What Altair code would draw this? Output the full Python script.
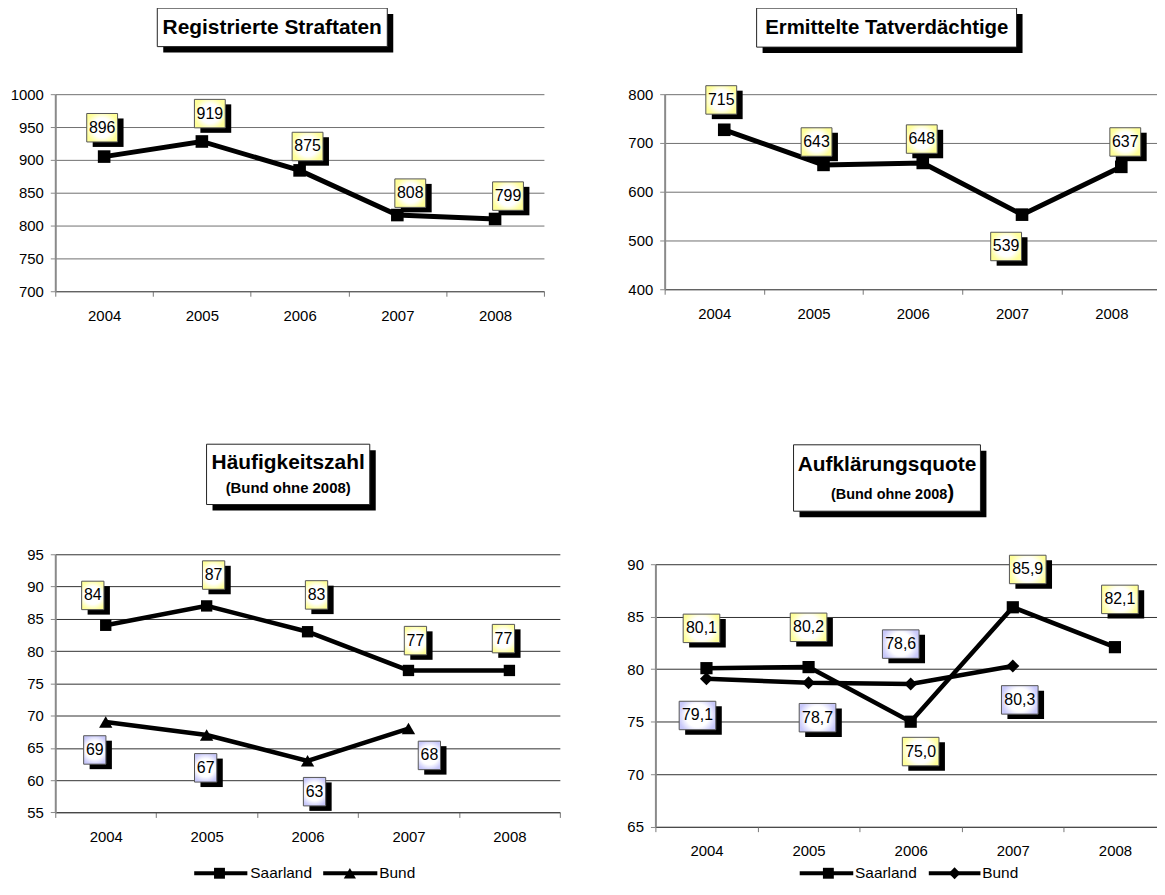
import json
import altair as alt
import pandas as pd

# ---------------- data ----------------
years = ["2004", "2005", "2006", "2007", "2008"]

# Registrierte Straftaten (plotted point positions / printed labels)
straf_points = [905, 928, 884, 816, 810]
straf_labels = [896, 919, 875, 808, 799]

# Ermittelte Tatverdächtige
tv_points = [727, 655, 659, 553, 651]
tv_labels = [715, 643, 648, 539, 637]

# Häufigkeitszahl
hz_saarland = [84, 87, 83, 77, 77]
hz_bund = [69, 67, 63, 68]

# Aufklärungsquote
aq_saarland = [80.1, 80.2, 75.0, 85.9, 82.1]
aq_bund = [79.1, 78.7, 78.6, 80.3]

# pixel nudges of each data-label box relative to its point
straf_dx = [-2, 8, 8, 13, 13]
straf_dy = [-29, -28, -24, -22, -23]
tv_dx = [7, 3, 9, -6, 14]
tv_dy = [-30, -23, -24, 32, -25]
hz_saar_dx = [-13, 7, 9, 7, -6]
hz_saar_dy = [-30, -31, -37, -30, -32]
hz_bund_dx = [-11, -1, 7, 21]
hz_bund_dy = [28, 33, 31, 27]
aq_saar_dx = [-5, 0, 10, 15, 5]
aq_saar_dy = [-40, -40, 30, -38, -48]
aq_bund_dx = [-9, 9, -10, 7]
aq_bund_dy = [37, 35, -40, 34]

FONT = "Liberation Sans"
YEARS_JS = json.dumps(years)
one = pd.DataFrame({"k": [0]})

HALF_H = 14.3
BOX_SIZE = (2 * HALF_H) ** 2


def box_path(half_w):
    k = half_w / HALF_H
    return f"M{-k:.3f},-1H{k:.3f}V1H{-k:.3f}Z"


def radial(edge):
    return {
        "gradient": "radial", "x1": 0.5, "y1": 0.5, "r1": 0,
        "x2": 0.5, "y2": 0.5, "r2": 0.7,
        "stops": [
            {"offset": 0, "color": "#ffffff"},
            {"offset": 0.45, "color": "#ffffff"},
            {"offset": 0.75, "color": edge},
            {"offset": 1, "color": edge},
        ],
    }


def series_frame(values, labels, dx, dy, band, units_per_px, decimals=0):
    rows = []
    for i, v in enumerate(values):
        text = f"{labels[i]:.{decimals}f}".replace(".", ",")
        rows.append({
            "pos": i + 0.5, "value": v, "label": text,
            "lx": i + 0.5 + dx[i] / band,
            "ly": v - dy[i] * units_per_px,
        })
    return pd.DataFrame(rows)


def panel(width, height, ydom, yvals, xmax, series, box_half_w, title, legend=None,
          line_w=5.0, xshift=0, grid_color="#707070"):
    band = width / xmax
    upp = (ydom[1] - ydom[0]) / height
    xscale = alt.Scale(domain=[0, xmax], nice=False, zero=False)
    yscale = alt.Scale(domain=ydom, nice=False, zero=False)
    nt = 6 if xmax >= 5 else 5
    xaxis = alt.Axis(
        values=list(range(nt)),
        labelExpr=f"datum.value < 5 ? {YEARS_JS}[datum.value] : ''",
        labelOffset=band / 2, tickSize=5, tickColor="#777", domainColor="#555",
        domainWidth=1, labelFontSize=15, labelFont=FONT, labelColor="black",
        labelPadding=12, grid=False, title=None, labelOverlap=False,
        labelFlush=False,
    )
    yaxis = alt.Axis(
        values=yvals, format="d", grid=True, gridColor=grid_color, gridWidth=1,
        tickSize=5, tickColor="#888", domainColor="#8a8a8a", domainWidth=2,
        labelFontSize=15, labelFont=FONT, labelColor="black", labelPadding=7,
        title=None,
    )

    lines, marks, boxes = [], [], []
    for s in series:
        df = series_frame(s["values"], s["labels"], s["dx"], s["dy"], band, upp,
                          s.get("decimals", 0))
        base = alt.Chart(df)
        x = alt.X("pos:Q", scale=xscale, axis=xaxis)
        y = alt.Y("value:Q", scale=yscale, axis=yaxis)
        lx = alt.X("lx:Q", scale=xscale, axis=xaxis)
        ly = alt.Y("ly:Q", scale=yscale, axis=yaxis)
        lines.append(base.mark_line(color="black", strokeWidth=line_w, xOffset=xshift)
                     .encode(x=x, y=y))
        marks.append(base.mark_point(shape=s["shape"], filled=True, color="black",
                                     size=s["msize"], opacity=1, xOffset=xshift)
                     .encode(x=x, y=y))
        path = box_path(box_half_w)
        boxes.append(base.mark_point(shape=path, filled=True, fill="black",
                                     size=BOX_SIZE, opacity=1, strokeWidth=0,
                                     xOffset=6, yOffset=5).encode(x=lx, y=ly))
        boxes.append(base.mark_point(shape=path, filled=True, fill=radial(s["edge"]),
                                     stroke="#555", strokeWidth=1, size=BOX_SIZE,
                                     opacity=1).encode(x=lx, y=ly))
        boxes.append(base.mark_text(font=FONT, fontSize=16, color="black",
                                    baseline="middle", align="center")
                     .encode(x=lx, y=ly, text="label:N"))

    deco = []
    bx1, bx2, by1, by2 = title["box"]
    deco.append(alt.Chart(one).mark_rect(color="black").encode(
        x=alt.value(bx1 + 6), x2=alt.value(bx2 + 6),
        y=alt.value(by1 + 6), y2=alt.value(by2 + 6)))
    deco.append(alt.Chart(one).mark_rect(fill="white", stroke="#222", strokeWidth=1).encode(
        x=alt.value(bx1), x2=alt.value(bx2), y=alt.value(by1), y2=alt.value(by2)))
    for (txt, tx, ty, fs, al) in title["lines"]:
        deco.append(alt.Chart(one).mark_text(
            text=txt, font=FONT, fontWeight="bold", fontSize=fs, color="black",
            align=al, baseline="alphabetic").encode(x=alt.value(tx), y=alt.value(ty)))

    if legend is not None:
        ly_ = legend["y"]
        for (name, x1, x2, shape, msize, mx, tx) in legend["items"]:
            deco.append(alt.Chart(one).mark_rule(color="black", strokeWidth=4).encode(
                x=alt.value(x1), x2=alt.value(x2), y=alt.value(ly_)))
            deco.append(alt.Chart(one).mark_point(shape=shape, filled=True, color="black",
                                                  size=msize, opacity=1).encode(
                x=alt.value(mx), y=alt.value(ly_)))
            deco.append(alt.Chart(one).mark_text(
                text=name, font=FONT, fontSize=15.5, color="black", align="left",
                baseline="middle").encode(x=alt.value(tx), y=alt.value(ly_)))

    return alt.layer(*lines, *marks, *boxes, *deco).properties(width=width, height=height)


YELLOW = "#FFFF99"
BLUE = "#C8C8FA"

c1 = panel(
    491, 198, [700, 1000], [700, 750, 800, 850, 900, 950, 1000], 5,
    [dict(values=straf_points, labels=straf_labels, dx=straf_dx, dy=straf_dy,
          shape="square", msize=160, edge=YELLOW)],
    15.5,
    dict(box=(102.5, 333.6, -86.5, -47.8),
         lines=[("Registrierte Straftaten", 218, -60.7, 21, "center")]),
)

c2 = panel(
    494.7, 196, [400, 800], [400, 500, 600, 700, 800], 4.96,
    [dict(values=tv_points, labels=tv_labels, dx=tv_dx, dy=tv_dy,
          shape="square", msize=160, edge=YELLOW)],
    15.5,
    dict(box=(92.4, 353.6, -86.5, -47.3),
         lines=[("Ermittelte Tatverdächtige", 223.2, -60.8, 20.5, "center")]),
    xshift=10,
)

c3 = panel(
    507, 259.4, [55, 95], [55, 60, 65, 70, 75, 80, 85, 90, 95], 5,
    [dict(values=hz_saarland, labels=hz_saarland, dx=hz_saar_dx, dy=hz_saar_dy,
          shape="square", msize=130, edge=YELLOW),
     dict(values=hz_bund, labels=hz_bund, dx=hz_bund_dx, dy=hz_bund_dy,
          shape="triangle-up", msize=180, edge=BLUE)],
    11.2,
    dict(box=(152, 316, -110.6, -50),
         lines=[("Häufigkeitszahl", 234, -86, 21, "center"),
                ("(Bund ohne 2008)", 234, -61.6, 15, "center")]),
    legend=dict(y=320.5, items=[
        ("Saarland", 139.6, 193, "square", 120, 165, 196),
        ("Bund", 269.2, 323.6, "triangle-up", 150, 296, 325.5)]),
    line_w=4.5, grid_color="#303030",
)

c4 = panel(
    504, 263.7, [65, 90], [65, 70, 75, 80, 85, 90], 4.912,
    [dict(values=aq_saarland, labels=aq_saarland, dx=aq_saar_dx, dy=aq_saar_dy,
          shape="square", msize=150, edge=YELLOW, decimals=1),
     dict(values=aq_bund, labels=aq_bund, dx=aq_bund_dx, dy=aq_bund_dy,
          shape="diamond", msize=170, edge=BLUE, decimals=1)],
    18.4,
    dict(box=(138.8, 326.6, -120, -53.3),
         lines=[("Aufklärungsquote", 232.7, -94, 21, "center"),
                ("(Bund ohne 2008", 293.2, -65.5, 14.5, "right"),
                (")", 293.2, -65.5, 21, "left")]),
    legend=dict(y=310.5, items=[
        ("Saarland", 145, 198.8, "square", 120, 173.8, 200.6),
        ("Bund", 274.7, 326.6, "diamond", 140, 300.6, 328.4)]),
    line_w=4.5, grid_color="#303030",
)

spacer = alt.Chart(one).mark_point(opacity=0).encode(
    x=alt.value(0), y=alt.value(5)).properties(width=10, height=10)

row1 = alt.hconcat(c1, c2, spacing=121.3, bounds="flush")
col4 = alt.vconcat(spacer, c4, spacing=0, bounds="flush")
row2 = alt.hconcat(c3, col4, spacing=96, bounds="flush")

# nested concat rows count as zero height in flush layout
chart = alt.vconcat(row1, row2, spacing=462.3, bounds="flush").properties(
    padding={"left": 1.5, "top": -2.5, "right": 0, "bottom": 0},
    background="white",
).configure_view(stroke=None)

chart.save("out.html", embed_options={"renderer": "svg", "actions": False})
